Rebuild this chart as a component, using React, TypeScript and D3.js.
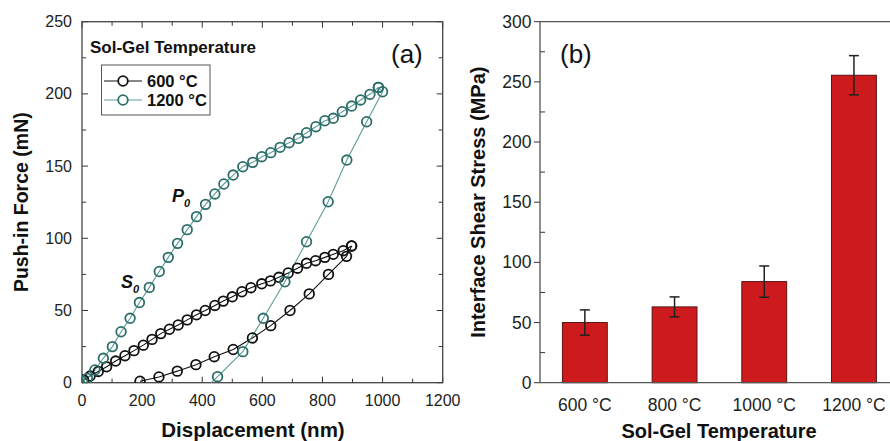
import React from "react";
import * as d3 from "d3";

// Panel (a): push-in curves, [displacement nm, force mN]
const load600: [number, number][] = [
  [5, 2], [27, 4.6], [54, 7.8], [82, 11], [112, 15], [143, 18.7], [173, 22.2], [204, 26],
  [233, 30], [262, 34], [291, 37], [320, 40], [350, 43.5], [381, 47], [410, 50], [442, 53.5],
  [470, 56.5], [500, 59.5], [532, 63], [562, 65.8], [598, 68.5], [627, 70.5], [655, 73],
  [686, 76], [717, 79.3], [747, 82.7], [777, 84.5], [808, 86.8], [836, 88.9], [869, 91.4], [897, 94.7],
];
const unload600: [number, number][] = [
  [897, 94.7], [880, 87.5], [820, 75], [756, 61.5], [692, 50], [628, 39.5], [567, 31],
  [503, 23], [440, 18], [379, 12.5], [317, 8], [256, 4], [193, 1],
];
const load1200: [number, number][] = [
  [2, 1], [18, 3], [43, 8.8], [71, 16.9], [101, 25], [130, 35.3], [160, 44.6], [191, 55.5],
  [224, 66], [257, 77], [287, 86.8], [318, 96.5], [350, 106], [381, 115], [411, 123.5],
  [442, 130.7], [472, 137.6], [503, 143.8], [535, 149.6], [568, 152.6], [598, 156.5],
  [628, 159.3], [659, 163], [689, 166.2], [720, 169.2], [747, 173.1], [778, 177.3],
  [808, 181.4], [836, 183.1], [866, 187.7], [897, 191.6], [927, 195.8], [958, 199.7], [986, 204.5],
];
const unload1200: [number, number][] = [
  [986, 204.5], [1000, 201.5], [947, 180.7], [881, 154.2], [819, 125.3], [747, 97.6],
  [675, 69.9], [603, 44.6], [535, 21.5], [451, 4.2], [380, -10],
];

// Panel (b): interface shear stress by sol-gel temperature
const temps = ["600 °C", "800 °C", "1000 °C", "1200 °C"];
const stress = [50, 63, 84, 255.5];
const stressErr = [10.5, 8.3, 13, 16.3];

const xTicksA = [0, 200, 400, 600, 800, 1000, 1200];
const yTicksA = [0, 50, 100, 150, 200, 250];
const yTicksB = [0, 50, 100, 150, 200, 250, 300];

const FONT = "'Liberation Sans', Arial, Helvetica, sans-serif";
const TEAL = "#2c6e69";
const TEAL_LINE = "#5f9c97";
const RED = "#cd1b1d";
const R = 4.8;
const SW = 1.8;

export default function App() {
  // panel (a) scales
  const xa = d3.scaleLinear().domain([0, 1200]).range([82, 442.7]);
  const ya = d3.scaleLinear().domain([0, 250]).range([382.7, 21.7]);
  // panel (b) scales
  const xb = d3.scaleLinear().domain([0.5, 4.5]).range([540, 898.8]);
  const yb = d3.scaleLinear().domain([0, 300]).range([382.7, 21.7]);
  const barW = xb(1.5) - xb(1);

  const line = d3
    .line<[number, number]>()
    .x((d) => xa(d[0]))
    .y((d) => ya(d[1]));

  const [ax0, ax1] = xa.range();
  const [ay0, ay1] = ya.range();

  const minorXA = d3.range(0, 1201, 100);
  const minorYA = d3.range(0, 251, 25);
  const minorYB = d3.range(0, 301, 25);

  const series = [
    { pts: load600, color: "#111", lineColor: "#111" },
    { pts: unload600, color: "#111", lineColor: "#111" },
    { pts: load1200, color: TEAL, lineColor: TEAL_LINE },
    { pts: unload1200, color: TEAL, lineColor: TEAL_LINE },
  ];

  return (
    <svg
      width={890}
      height={441}
      style={{ position: "absolute", left: 0, top: 0, background: "#fff" }}
      fontFamily={FONT}
    >
      <defs>
        <clipPath id="plotA">
          <rect x={ax0} y={ay1} width={ax1 - ax0} height={ay0 - ay1} />
        </clipPath>
      </defs>

      {/* ---------- panel (a) ---------- */}
      <g>
        {/* ticks, inward on all four sides */}
        {minorXA.map((v) => {
          const major = v % 200 === 0;
          const len = major ? 6 : 4;
          return (
            <g key={"xa" + v} stroke="#333" strokeWidth={1}>
              <line x1={xa(v)} x2={xa(v)} y1={ay0} y2={ay0 - len} />
              <line x1={xa(v)} x2={xa(v)} y1={ay1} y2={ay1 + len} />
            </g>
          );
        })}
        {minorYA.map((v) => {
          const major = v % 50 === 0;
          const len = major ? 6 : 4;
          return (
            <g key={"ya" + v} stroke="#333" strokeWidth={1}>
              <line x1={ax0} x2={ax0 + len} y1={ya(v)} y2={ya(v)} />
              <line x1={ax1} x2={ax1 - len} y1={ya(v)} y2={ya(v)} />
            </g>
          );
        })}
        <rect
          x={ax0}
          y={ay1}
          width={ax1 - ax0}
          height={ay0 - ay1}
          fill="none"
          stroke="#444"
          strokeWidth={1.3}
        />
        {xTicksA.map((v) => (
          <text key={"xl" + v} x={xa(v)} y={406} fontSize={16} textAnchor="middle" fill="#222">
            {v}
          </text>
        ))}
        {yTicksA.map((v) => (
          <text key={"yl" + v} x={72} y={ya(v) + 5.5} fontSize={16} textAnchor="end" fill="#222">
            {v}
          </text>
        ))}
        <text x={253} y={437} fontSize={20.5} fontWeight="bold" textAnchor="middle" fill="#111">
          Displacement (nm)
        </text>
        <text
          transform={`translate(28,${(ay0 + ay1) / 2}) rotate(-90)`}
          fontSize={19.5}
          fontWeight="bold"
          textAnchor="middle"
          fill="#111"
        >
          Push-in Force (mN)
        </text>

        {/* curves */}
        <g clipPath="url(#plotA)">
          {series.map((s, i) => (
            <path key={"l" + i} d={line(s.pts) || ""} fill="none" stroke={s.lineColor} strokeWidth={1.1} />
          ))}
          {series.map((s, i) =>
            s.pts.map((p, j) => (
              <circle
                key={"c" + i + "-" + j}
                cx={xa(p[0])}
                cy={ya(p[1])}
                r={R}
                fill="none"
                stroke={s.color}
                strokeWidth={SW}
              />
            ))
          )}
        </g>

        {/* annotations */}
        <text x={172} y={202} fontSize={18} fontWeight="bold" fontStyle="italic" fill="#111">
          P
          <tspan fontSize={11} dy={5}>0</tspan>
        </text>
        <text x={121} y={288} fontSize={18} fontWeight="bold" fontStyle="italic" fill="#111">
          S
          <tspan fontSize={11} dy={5}>0</tspan>
        </text>
        <text x={90} y={53} fontSize={17} fontWeight="bold" fill="#111">
          Sol-Gel Temperature
        </text>
        <text x={391} y={63} fontSize={26} fill="#111">
          (a)
        </text>

        {/* legend */}
        <rect x={101.5} y={65} width={108.5} height={50} fill="#fff" stroke="#555" strokeWidth={1} />
        {[
          { label: "600 °C", color: "#111", lineColor: "#111", y: 81 },
          { label: "1200 °C", color: TEAL, lineColor: TEAL_LINE, y: 100 },
        ].map((l) => (
          <g key={l.label}>
            <line x1={104} x2={142} y1={l.y} y2={l.y} stroke={l.lineColor} strokeWidth={1.2} />
            <circle cx={123} cy={l.y} r={R} fill="#fff" stroke={l.color} strokeWidth={SW} />
            <text x={147} y={l.y + 6} fontSize={16.5} fontWeight="bold" fill="#111">
              {l.label}
            </text>
          </g>
        ))}
      </g>

      {/* ---------- panel (b) ---------- */}
      <g>
        {temps.map((t, i) => {
          const cx = xb(i + 1);
          const top = yb(stress[i]);
          const hi = yb(stress[i] + stressErr[i]);
          const lo = yb(stress[i] - stressErr[i]);
          return (
            <g key={t}>
              <rect
                x={cx - barW / 2}
                y={top}
                width={barW}
                height={yb(0) - top}
                fill={RED}
                stroke="#5a1212"
                strokeWidth={1}
              />
              <g stroke="#222" strokeWidth={1.5}>
                <line x1={cx} x2={cx} y1={hi} y2={lo} />
                <line x1={cx - 5} x2={cx + 5} y1={hi} y2={hi} />
                <line x1={cx - 5} x2={cx + 5} y1={lo} y2={lo} />
              </g>
              <text x={cx} y={411} fontSize={17.5} textAnchor="middle" fill="#222">
                {t}
              </text>
            </g>
          );
        })}
        {minorYB.map((v) => {
          const major = v % 50 === 0;
          return major ? (
            <line key={"yb" + v} x1={540 - 6} x2={540} y1={yb(v)} y2={yb(v)} stroke="#333" strokeWidth={1} />
          ) : (
            <line key={"yb" + v} x1={540} x2={545} y1={yb(v)} y2={yb(v)} stroke="#333" strokeWidth={1} />
          );
        })}
        <path
          d={`M${xb(4.5)},${yb(300)}H540V${yb(0)}H${xb(4.5)}`}
          fill="none"
          stroke="#555"
          strokeWidth={1.3}
        />
        {yTicksB.map((v) => (
          <text key={"ybl" + v} x={531.5} y={yb(v) + 6} fontSize={17.5} textAnchor="end" fill="#222">
            {v}
          </text>
        ))}
        <text x={560} y={63} fontSize={26} fill="#111">
          (b)
        </text>
        <text x={719} y={438} fontSize={20} fontWeight="bold" textAnchor="middle" fill="#111">
          Sol-Gel Temperature
        </text>
        <text
          transform={`translate(485,${(yb(0) + yb(300)) / 2}) rotate(-90)`}
          fontSize={20}
          fontWeight="bold"
          textAnchor="middle"
          fill="#111"
        >
          Interface Shear Stress (MPa)
        </text>
      </g>
    </svg>
  );
}
